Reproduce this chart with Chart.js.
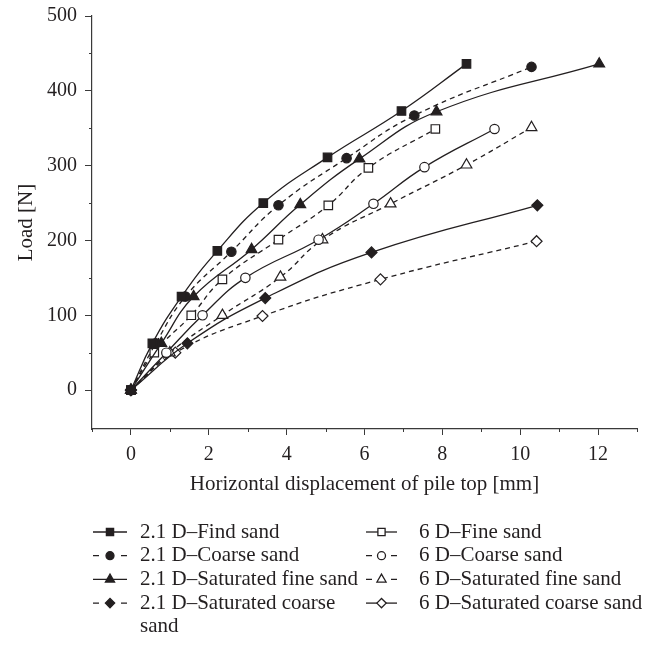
<!DOCTYPE html>
<html>
<head>
<meta charset="utf-8">
<title>Load vs horizontal displacement of pile top</title>
<script src="https://cdn.jsdelivr.net/npm/chart.js@4.4.1/dist/chart.umd.min.js"></script>
<style>
    html, body { margin: 0; padding: 0; background: #fff; }
    #wrap { width: 647px; height: 646px; position: relative; }
</style>
</head>
<body>
<div id="wrap"><canvas id="chart"></canvas></div>
<script>
// ── Data ─────────────────────────────────────────────────────────────────────
const legendLabels = [
    '2.1 D\u2013Find sand',
    '2.1 D\u2013Coarse sand',
    '2.1 D\u2013Saturated fine sand',
    '2.1 D\u2013Saturated coarse sand',
    '6 D\u2013Fine sand',
    '6 D\u2013Coarse sand',
    '6 D\u2013Saturated fine sand',
    '6 D\u2013Saturated coarse sand',
];

const fine21X      = [0, 0.55, 1.30, 2.22, 3.40, 5.05, 6.95, 8.62];
const fine21Y      = [0, 62.5, 125, 186, 250, 311, 373, 436];
const coarse21X    = [0, 0.64, 1.40, 2.58, 3.79, 5.54, 7.28, 10.29];
const coarse21Y    = [0, 62.5, 125, 185, 247, 310, 367, 432];
const satFine21X   = [0, 0.78, 1.61, 3.10, 4.35, 5.87, 7.85, 12.03];
const satFine21Y   = [0, 62.5, 125, 188, 248, 309, 372, 436];
const satCoarse21X = [0, 1.45, 3.45, 6.18, 10.44];
const satCoarse21Y = [0, 62.5, 123, 184, 247];

const fine6X       = [0, 0.60, 1.55, 2.35, 3.79, 5.07, 6.10, 7.82];
const fine6Y       = [0, 50, 100, 148, 201, 247, 297, 349];
const coarse6X     = [0, 0.91, 1.84, 2.94, 4.82, 6.23, 7.54, 9.34];
const coarse6Y     = [0, 50, 100, 150, 201, 249, 298, 349];
const satFine6X    = [0, 1.00, 2.35, 3.84, 4.92, 6.67, 8.62, 10.29];
const satFine6Y    = [0, 50, 100, 151, 201, 249, 301, 351];
const satCoarse6X  = [0, 1.14, 3.38, 6.41, 10.42];
const satCoarse6Y  = [0, 50, 99, 148, 199];

const xTicks      = [0, 2, 4, 6, 8, 10, 12];
const xMinorTicks = [-1, 1, 3, 5, 7, 9, 11, 13];
const yTicks      = [0, 100, 200, 300, 400, 500];
const yMinorTicks = [50, 150, 250, 350, 450];

// ── Styles ───────────────────────────────────────────────────────────────────
const INK  = '#231f20';
const AXIS = '#3a3a3a';
const FONT = '"Liberation Serif", "Times New Roman", serif';

const seriesX = [fine21X, coarse21X, satFine21X, satCoarse21X, fine6X, coarse6X, satFine6X, satCoarse6X];
const seriesY = [fine21Y, coarse21Y, satFine21Y, satCoarse21Y, fine6Y, coarse6Y, satFine6Y, satCoarse6Y];
const shapes  = ['rect', 'circle', 'triangle', 'rectRot', 'rect', 'circle', 'triangle', 'rectRot'];
const radii   = { rect: 6, circle: 4.7, triangle: 6.2, rectRot: 5.5 };
// line style in the plot vs. in the legend (the figure does not agree with itself)
const plotDashed   = [false, true, false, false, true, false, true, true];
const legendDashed = [false, true, false, true, false, true, true, false];

function buildDatasets() {
    return legendLabels.map((label, i) => {
        const open = i >= 4;
        return {
            label,
            data: seriesX[i].map((x, k) => ({ x, y: seriesY[i][k] })),
            showLine: true,
            tension: 0.45,
            borderColor: INK,
            borderWidth: 1.3,
            borderDash: plotDashed[i] ? [5, 4] : [],
            pointStyle: shapes[i],
            pointRadius: radii[shapes[i]],
            pointHoverRadius: radii[shapes[i]],
            pointBorderWidth: 1.2,
            pointBorderColor: INK,
            pointBackgroundColor: open ? '#ffffff' : INK,
            clip: false,
        };
    });
}

// ── Minor ticks (short marks between the labelled ones) ─────────────────────
const minorTickPlugin = {
    id: 'minorTicks',
    afterDraw(chart) {
        const { ctx, chartArea, scales: { x, y } } = chart;
        ctx.save();
        ctx.strokeStyle = AXIS;
        ctx.lineWidth = 1;
        ctx.beginPath();
        xMinorTicks.forEach(v => {
            const px = Math.round(x.getPixelForValue(v)) + 0.5;
            ctx.moveTo(px, chartArea.bottom);
            ctx.lineTo(px, chartArea.bottom + 3);
        });
        yMinorTicks.forEach(v => {
            const py = Math.round(y.getPixelForValue(v)) + 0.5;
            ctx.moveTo(chartArea.left, py);
            ctx.lineTo(chartArea.left - 3, py);
        });
        ctx.stroke();
        ctx.restore();
    },
};

// ── Two-column legend with line + marker swatches ───────────────────────────
function drawMarker(ctx, style, r, x, y) {
    const opts = { pointStyle: style, radius: r, rotation: 0, borderWidth: 1.2 };
    if (Chart.helpers && Chart.helpers.drawPoint) {
        Chart.helpers.drawPoint(ctx, opts, x, y);
        return;
    }
    ctx.beginPath();
    ctx.arc(x, y, r, 0, Math.PI * 2);
    ctx.fill();
    ctx.stroke();
}

const legendPlugin = {
    id: 'pileLegend',
    afterDraw(chart) {
        const ctx = chart.ctx;
        ctx.save();
        ctx.font = '21px ' + FONT;
        ctx.textBaseline = 'middle';
        chart.data.datasets.forEach((ds, i) => {
            const col = Math.floor(i / 4);
            const row = i % 4;
            const x0 = col ? 366 : 93;
            const x1 = col ? 397 : 127;
            const tx = col ? 419 : 140;
            const y  = 532 + row * 23.7;
            const mx = (x0 + x1) / 2;

            ctx.strokeStyle = INK;
            ctx.lineWidth = 1.3;
            ctx.setLineDash([]);
            ctx.beginPath();
            if (legendDashed[i]) {
                ctx.moveTo(x0, y); ctx.lineTo(x0 + 6, y);
                ctx.moveTo(x1 - 6, y); ctx.lineTo(x1, y);
            } else {
                ctx.moveTo(x0, y); ctx.lineTo(x1, y);
            }
            ctx.stroke();

            ctx.fillStyle = i >= 4 ? '#ffffff' : INK;
            drawMarker(ctx, shapes[i], radii[shapes[i]] * 0.85, mx, y);

            // wrap long labels like the figure does
            ctx.fillStyle = INK;
            const words = ds.label.split(' ');
            const lines = [];
            let cur = '';
            words.forEach(w => {
                const test = cur ? cur + ' ' + w : w;
                if (cur && ctx.measureText(test).width > 224) {
                    lines.push(cur);
                    cur = w;
                } else {
                    cur = test;
                }
            });
            lines.push(cur);
            lines.forEach((line, k) => ctx.fillText(line, tx, y + k * 23.7));
        });
        ctx.restore();
    },
};

// ── Chart ────────────────────────────────────────────────────────────────────
function init() {
    const canvas = document.getElementById('chart');

    new Chart(canvas, {
        type: 'scatter',
        data: { datasets: buildDatasets() },
        options: {
            responsive: true,
            maintainAspectRatio: false,
            animation: false,
            layout: { padding: { top: 16, left: 0, right: 10, bottom: 146 } },
            plugins: {
                legend : { display: false },
                tooltip: { enabled: false },
            },
            scales: {
                x: {
                    type: 'linear',
                    min: -1,
                    max: 13,
                    afterBuildTicks: s => { s.ticks = xTicks.map(v => ({ value: v })); },
                    afterFit: s => { s.height = 71; s.paddingLeft = 0; s.paddingRight = 0; },
                    grid  : { drawOnChartArea: false, drawTicks: true, tickLength: 6, color: AXIS, tickWidth: 1 },
                    border: { display: true, color: AXIS, width: 1.2 },
                    ticks : { color: INK, font: { family: FONT, size: 20 }, padding: 8, maxRotation: 0 },
                    title : {
                        display: true,
                        text: 'Horizontal displacement of pile top [mm]',
                        color: INK,
                        font: { family: FONT, size: 21 },
                        padding: { top: 4, bottom: 3 },
                    },
                },
                y: {
                    type: 'linear',
                    min: -52,
                    max: 500,
                    afterBuildTicks: s => { s.ticks = yTicks.map(v => ({ value: v })); },
                    afterFit: s => { s.width = 92; s.paddingTop = 0; s.paddingBottom = 0; },
                    grid  : { drawOnChartArea: false, drawTicks: true, tickLength: 7, color: AXIS, tickWidth: 1 },
                    border: { display: true, color: AXIS, width: 1.2 },
                    ticks : { color: INK, font: { family: FONT, size: 20 }, padding: 8 },
                    title : {
                        display: true,
                        text: 'Load [N]',
                        color: INK,
                        font: { family: FONT, size: 21 },
                        padding: { top: 14, bottom: 0 },
                    },
                },
            },
        },
        plugins: [minorTickPlugin, legendPlugin],
    });
}

if (document.readyState === 'loading') {
    document.addEventListener('DOMContentLoaded', init);
} else {
    init();
}
</script>
</body>
</html>
